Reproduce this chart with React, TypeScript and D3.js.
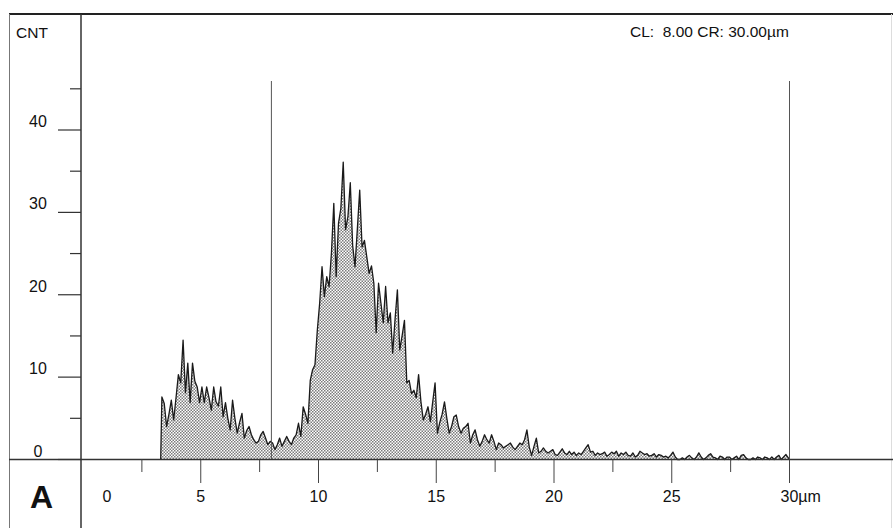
import React, { useEffect, useRef } from "react";
import * as d3 from "d3";

// histogram bins: 0.1 µm wide, starting at 3.3 µm
const binStart = 3.3;
const binWidth = 0.1;
const counts = [
  7.6, 6.8, 4.0, 5.5, 7.2, 4.8, 7.5, 10.3, 9.3, 14.5,
  8.1, 11.7, 6.9, 11.7, 9.5, 8.8, 6.9, 8.8, 6.9, 8.8,
  7.5, 6.0, 8.8, 7.0, 6.5, 8.8, 5.2, 6.9, 5.0, 3.6,
  7.2, 5.0, 3.2, 4.5, 5.6, 2.6, 3.5, 4.0, 3.0, 2.4,
  2.0, 2.2, 3.0, 3.4, 2.6, 1.8, 2.2, 2.0, 1.2, 1.8,
  2.6, 1.6, 2.2, 2.8, 2.2, 1.8, 2.6, 3.0, 4.4, 2.8,
  6.4, 5.5, 4.4, 9.6, 10.9, 11.5, 15.7, 19.0, 23.4, 19.8,
  22.2, 21.0, 25.1, 31.1, 22.2, 28.7, 30.5, 36.1, 27.9, 29.5,
  33.6, 26.0, 23.4, 28.0, 32.7, 25.8, 26.6, 24.6, 22.6, 23.5,
  21.4, 15.4, 21.4, 19.0, 16.6, 21.0, 16.6, 17.8, 12.9, 17.0,
  20.6, 13.3, 15.0, 16.9, 9.3, 9.6, 8.0, 8.4, 7.5, 10.3,
  7.0, 4.8, 5.5, 6.4, 4.6, 7.0, 9.3, 3.2, 4.5, 5.5,
  7.0, 5.0, 3.2, 4.0, 5.2, 5.4, 4.0, 3.2, 3.8, 4.0,
  4.4, 2.0, 3.0, 3.6, 2.4, 1.6, 2.2, 3.0, 2.4, 2.0,
  3.0, 2.2, 1.2, 2.0, 1.8, 1.4, 1.6, 1.8, 2.0, 1.5,
  1.2, 1.6, 2.0, 1.8, 2.4, 3.6, 1.5, 0.5, 1.6, 2.6,
  0.8, 1.0, 1.4, 1.0, 0.8, 1.0, 1.2, 0.6, 0.5, 0.9,
  1.3, 0.8, 0.6, 1.0, 0.6, 0.9, 0.5, 0.8, 0.6, 1.0,
  1.4, 1.8, 0.9, 1.0, 0.5, 0.8, 0.6, 0.7, 0.9, 0.4,
  0.6, 0.9, 0.7, 1.0, 0.4, 0.8, 0.6, 0.9, 0.5, 0.4,
  0.8, 0.3, 0.5, 1.0, 0.8, 0.6, 0.7, 0.4, 0.5, 0.7,
  0.3, 0.6, 0.5, 0.3, 0.4, 0.2, 0.5, 0.9, 0.3, 0.0,
  0.0, 0.2, 0.0, 0.3, 0.5, 0.2, 0.0, 0.3, 0.8, 0.3,
  0.0, 0.2, 0.5, 0.7, 0.3, 0.2, 0.0, 0.4, 0.3, 0.0,
  0.3, 0.3, 0.0, 0.2, 0.4, 0.0, 0.5, 0.6, 0.2, 0.0,
  0.0, 0.2, 0.0, 0.3, 0.2, 0.0, 0.3, 0.2, 0.0, 0.3,
  0.0, 0.3, 0.5, 0.0, 0.3, 0.6, 0.2,
];

const xMajor = [0, 5, 10, 15, 20, 25, 30];
const xMinor = [2.5, 7.5, 12.5, 17.5, 22.5, 27.5];
const yMajor = [0, 10, 20, 30, 40];
const yMinor = [5, 15, 25, 35, 45];
const cursors = [8, 30];
const cursorText = "CL:  8.00 CR: 30.00µm";

const FONT = '"Liberation Sans", Arial, sans-serif';

const App = () => {
  const svgRef = useRef<SVGSVGElement>(null);

  useEffect(() => {
    if (!svgRef.current) return;
    const width = 893;
    const height = 528;
    const svg = d3.select(svgRef.current).attr("width", width).attr("height", height);
    svg.selectAll("*").remove();

    const x = d3.scaleLinear().domain([0, 30]).range([83, 789.5]);
    const y = d3.scaleLinear().domain([0, 40]).range([459.5, 130]);
    const axisX = 81;

    const defs = svg.append("defs");
    const pat = defs
      .append("pattern")
      .attr("id", "dots")
      .attr("width", 3)
      .attr("height", 3)
      .attr("patternUnits", "userSpaceOnUse");
    pat.append("rect").attr("width", 3).attr("height", 3).attr("fill", "#fff");
    pat.append("rect").attr("width", 1.5).attr("height", 1.5).attr("fill", "#7c7c7c");
    pat.append("rect").attr("x", 1.5).attr("y", 1.5).attr("width", 1.5).attr("height", 1.5).attr("fill", "#7c7c7c");

    svg.append("rect").attr("width", width).attr("height", height).attr("fill", "#fff");

    // frame
    svg.append("line").attr("x1", 9).attr("x2", width).attr("y1", 14).attr("y2", 14)
      .attr("stroke", "#222").attr("stroke-width", 2);
    svg.append("line").attr("x1", 9.5).attr("x2", 9.5).attr("y1", 14).attr("y2", height)
      .attr("stroke", "#777").attr("stroke-width", 1);
    svg.append("line").attr("x1", 891.5).attr("x2", 891.5).attr("y1", 14).attr("y2", height)
      .attr("stroke", "#ddd").attr("stroke-width", 1);
    svg.append("line").attr("x1", axisX).attr("x2", axisX).attr("y1", 14).attr("y2", height)
      .attr("stroke", "#333").attr("stroke-width", 1.5);

    // histogram
    const pts = [{ u: binStart, v: 0 }].concat(
      counts.map((v, i) => ({ u: binStart + binWidth * (i + 0.5), v }))
    );
    pts.push({ u: binStart + binWidth * counts.length, v: 0 });

    const area = d3.area<{ u: number; v: number }>()
      .x((d) => x(d.u))
      .y0(y(0))
      .y1((d) => y(d.v));
    const line = d3.line<{ u: number; v: number }>()
      .x((d) => x(d.u))
      .y((d) => y(d.v));

    svg.append("path").datum(pts).attr("fill", "url(#dots)").attr("d", area);
    svg.append("path").datum(pts).attr("fill", "none").attr("stroke", "#1a1a1a")
      .attr("stroke-width", 1.3).attr("stroke-linejoin", "round").attr("d", line);

    // cursor lines
    svg.selectAll(".cursor").data(cursors).enter().append("line")
      .attr("x1", (d) => x(d)).attr("x2", (d) => x(d))
      .attr("y1", 81).attr("y2", y(0))
      .attr("stroke", "#555").attr("stroke-width", 1);

    // baseline
    svg.append("line").attr("x1", 9).attr("x2", width).attr("y1", y(0)).attr("y2", y(0))
      .attr("stroke", "#333").attr("stroke-width", 1.5);

    // x ticks
    svg.selectAll(".xmaj").data(xMajor.slice(1)).enter().append("line")
      .attr("x1", (d) => x(d)).attr("x2", (d) => x(d))
      .attr("y1", y(0)).attr("y2", 483).attr("stroke", "#444").attr("stroke-width", 1);
    svg.selectAll(".xmin").data(xMinor).enter().append("line")
      .attr("x1", (d) => x(d)).attr("x2", (d) => x(d))
      .attr("y1", y(0)).attr("y2", 472).attr("stroke", "#444").attr("stroke-width", 1);
    svg.selectAll(".xlab").data(xMajor).enter().append("text")
      .attr("x", (d) => (d === 0 ? x(d) + 24 : d === 30 ? x(d) - 9 : x(d)))
      .attr("y", 501.5)
      .attr("text-anchor", (d) => (d === 30 ? "start" : "middle"))
      .style("font-family", FONT).style("font-size", "16px").attr("fill", "#111")
      .text((d) => (d === 30 ? `${d}µm` : `${d}`));

    // y ticks
    svg.selectAll(".ymaj").data(yMajor).enter().append("line")
      .attr("x1", 58).attr("x2", axisX).attr("y1", (d) => y(d)).attr("y2", (d) => y(d))
      .attr("stroke", "#333").attr("stroke-width", 1.2);
    svg.selectAll(".ymin").data(yMinor).enter().append("line")
      .attr("x1", 70).attr("x2", axisX).attr("y1", (d) => y(d)).attr("y2", (d) => y(d))
      .attr("stroke", "#333").attr("stroke-width", 1.2);
    svg.selectAll(".ylab").data(yMajor).enter().append("text")
      .attr("x", 38).attr("y", (d) => y(d) - 3)
      .attr("text-anchor", "middle")
      .style("font-family", FONT).style("font-size", "16px").attr("fill", "#111")
      .text((d) => `${d}`);

    svg.append("text").attr("x", 16).attr("y", 38)
      .style("font-family", FONT).style("font-size", "15.5px").attr("fill", "#111").text("CNT");
    svg.append("text").attr("x", 630).attr("y", 36.5)
      .style("font-family", FONT).style("font-size", "15.5px").style("white-space", "pre")
      .attr("fill", "#111").text(cursorText);
    svg.append("text").attr("x", 30).attr("y", 508)
      .style("font-family", FONT).style("font-size", "32px").style("font-weight", "bold")
      .attr("fill", "#111").text("A");
  }, []);

  return (
    <div style={{ position: "absolute", left: 0, top: 0 }}>
      <svg ref={svgRef} style={{ display: "block" }}></svg>
    </div>
  );
};

export default App;
